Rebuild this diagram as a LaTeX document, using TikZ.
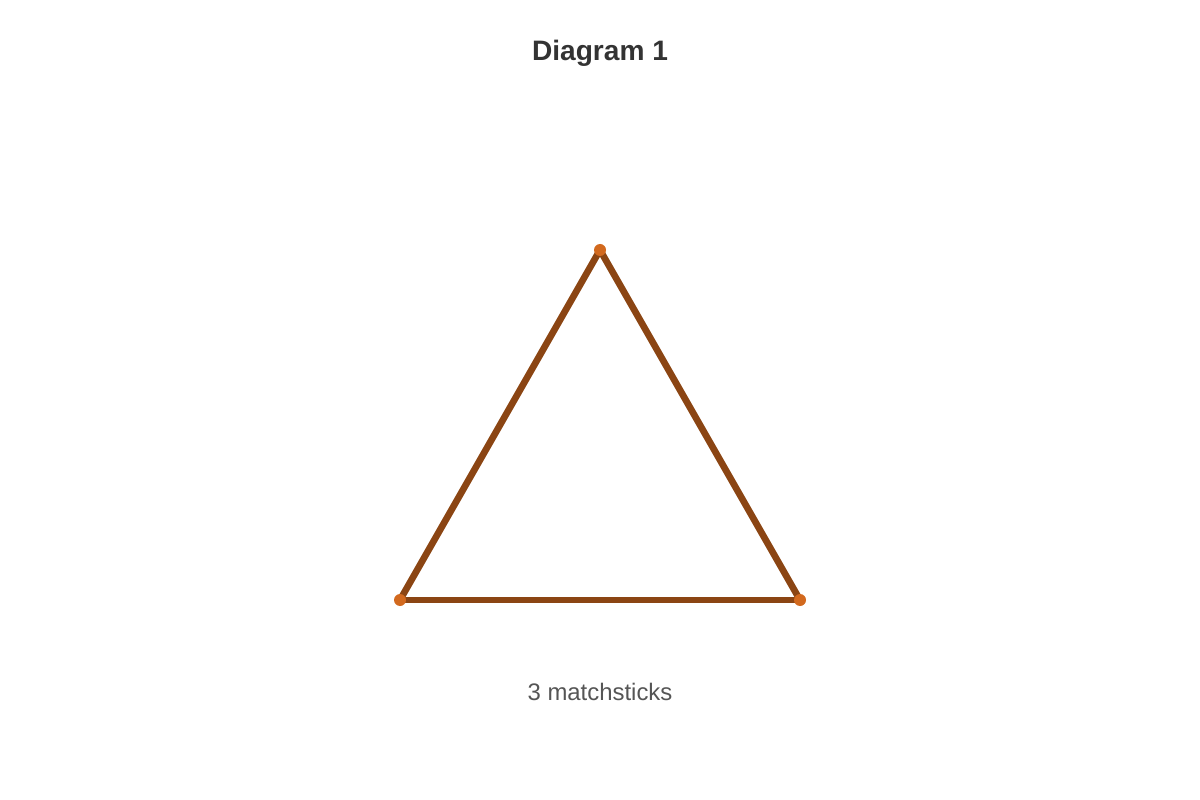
\documentclass[tikz,border=0pt]{standalone}
\usepackage{fontspec}
\setmainfont{Liberation Sans}
\usepackage{tikz}

\definecolor{stickbrown}{HTML}{8B4513}
\definecolor{headorange}{HTML}{D2691E}
\definecolor{titlegray}{HTML}{333333}
\definecolor{captiongray}{HTML}{555555}

\begin{document}
\begin{tikzpicture}[x=0.02cm, y=-0.02cm,
		stick/.style={line width=3.8pt, stickbrown},
		head/.style={circle, fill=headorange, inner sep=0pt, minimum size=0.24cm}]
			\useasboundingbox (0,0) rectangle (1200,800);
			% Nodes
			\coordinate (v1) at (600,250);
			\coordinate (v2) at (400,600);
			\coordinate (v3) at (800,600);
			\draw[stick] (v1) -- (v2);
			\draw[stick] (v2) -- (v3);
			\draw[stick] (v3) -- (v1);
			\foreach \i in {1,2,3} {
				\node[head] (dot\i) at (v\i) {};
			}
			\node[font=\fontsize{16pt}{19pt}\selectfont\bfseries, text=titlegray] (title) at (600,53) {Diagram 1};
			\node[font=\fontsize{13.6pt}{16pt}\selectfont, text=captiongray] (caption) at (600,692) {3 matchsticks};
		\end{tikzpicture}
\end{document}
